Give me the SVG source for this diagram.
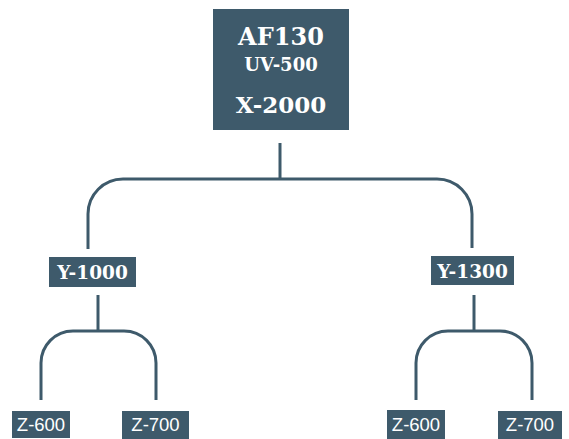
<svg xmlns="http://www.w3.org/2000/svg" width="569" height="439" viewBox="0 0 569 439">
<style>
.box{fill:#3e5a6b}
.slab{font-family:"DejaVu Serif",serif;font-weight:bold;fill:#fff;text-anchor:middle}
.sans{font-family:"Liberation Sans",sans-serif;fill:#fff;text-anchor:middle;font-size:18.5px}
.con{fill:none;stroke:#3e5a6b;stroke-width:3}
</style>
<rect width="569" height="439" fill="#fff"/>
<g id="connectors">
<path class="con" d="M280,143 V179"/>
<path class="con" d="M88,249 V214 A35,35 0 0 1 123,179 H437 A35,35 0 0 1 472,214 V248"/>
<path class="con" d="M98,295 V331"/>
<path class="con" d="M41,400 V363 A32,32 0 0 1 73,331 H124 A32,32 0 0 1 156,363 V400"/>
<path class="con" d="M474,295 V331"/>
<path class="con" d="M416,400 V363 A32,32 0 0 1 448,331 H500 A32,32 0 0 1 532,363 V400"/>
</g>
<g id="root">
<rect class="box" x="213" y="9" width="136" height="121"/>
<text class="slab" x="281" y="45" font-size="24">AF130</text>
<text class="slab" x="281" y="71" font-size="18">UV-500</text>
<text class="slab" x="281" y="113" font-size="23">X-2000</text>
</g>
<g id="y1000">
<rect class="box" x="49" y="257" width="87" height="30"/>
<text class="slab" x="92.5" y="279" font-size="18.5">Y-1000</text>
</g>
<g id="y1300">
<rect class="box" x="431" y="256" width="83" height="29"/>
<text class="slab" x="472.5" y="277.5" font-size="18.5">Y-1300</text>
</g>
<g id="z600a">
<rect class="box" x="12" y="411" width="58" height="27"/>
<text class="sans" x="41" y="431">Z-600</text>
</g>
<g id="z700a">
<rect class="box" x="122" y="411" width="67" height="28"/>
<text class="sans" x="155.5" y="431">Z-700</text>
</g>
<g id="z600b">
<rect class="box" x="387" y="410" width="58" height="29"/>
<text class="sans" x="416" y="431">Z-600</text>
</g>
<g id="z700b">
<rect class="box" x="498" y="411" width="64" height="28"/>
<text class="sans" x="530" y="431">Z-700</text>
</g>
</svg>
